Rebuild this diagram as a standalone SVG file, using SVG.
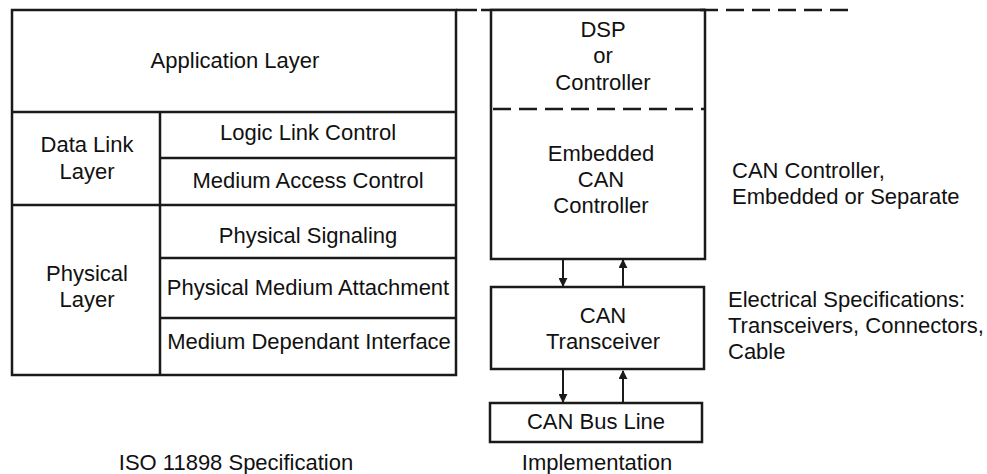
<svg xmlns="http://www.w3.org/2000/svg" width="987" height="474" viewBox="0 0 987 474">
<style>
.ln{stroke:#1a1a1a;stroke-width:2.5;fill:none}
.box{stroke:#1a1a1a;stroke-width:2.5;fill:#fff}
.dash{stroke:#1a1a1a;stroke-width:2.5;fill:none;stroke-dasharray:18 8}
text{font-family:"Liberation Sans",Arial,sans-serif;font-size:22px;fill:#111}
.c{text-anchor:middle}
.arr{stroke:#1a1a1a;stroke-width:2;fill:none}
</style>
<defs>
<marker id="ah" viewBox="0 0 10 10" refX="9" refY="5" markerWidth="9" markerHeight="9" markerUnits="userSpaceOnUse" orient="auto">
<path d="M0,0 L10,5 L0,10 Z" fill="#1a1a1a"/>
</marker>
</defs>
<rect width="987" height="474" fill="#fff"/>
<g id="iso-stack">
<rect class="box" x="12" y="10" width="444" height="365"/>
<line class="ln" x1="456" y1="10" x2="477" y2="10"/>
<line class="ln" x1="12" y1="112" x2="456" y2="112"/>
<line class="ln" x1="160" y1="112" x2="160" y2="375"/>
<line class="ln" x1="160" y1="158" x2="456" y2="158"/>
<line class="ln" x1="12" y1="205" x2="456" y2="205"/>
<line class="ln" x1="160" y1="258" x2="456" y2="258"/>
<line class="ln" x1="160" y1="318" x2="456" y2="318"/>
</g>
<g id="application-layer"><text class="c" x="235" y="68">Application Layer</text></g>
<g id="data-link-layer"><text class="c" x="87" y="152">Data Link</text><text class="c" x="87" y="179">Layer</text></g>
<g id="llc"><text class="c" x="308" y="140">Logic Link Control</text></g>
<g id="mac"><text class="c" x="308" y="188">Medium Access Control</text></g>
<g id="physical-layer"><text class="c" x="87" y="281">Physical</text><text class="c" x="87" y="307">Layer</text></g>
<g id="pls"><text class="c" x="308" y="243">Physical Signaling</text></g>
<g id="pma"><text class="c" x="308" y="295">Physical Medium Attachment</text></g>
<g id="mdi"><text class="c" x="309" y="349">Medium Dependant Interface</text></g>
<g id="iso-caption"><text class="c" x="236" y="470">ISO 11898 Specification</text></g>
<g id="controller-box">
<line class="ln" x1="481" y1="10" x2="705" y2="10"/>
<rect class="box" x="491" y="10" width="214" height="249"/>
<line class="dash" x1="493" y1="109" x2="705" y2="109"/>
<line class="dash" x1="700" y1="10" x2="848" y2="10"/>
<text class="c" x="603" y="37">DSP</text>
<text class="c" x="603" y="63">or</text>
<text class="c" x="603" y="90">Controller</text>
<text class="c" x="601" y="161">Embedded</text>
<text class="c" x="601" y="187">CAN</text>
<text class="c" x="601" y="213">Controller</text>
</g>
<g id="transceiver">
<rect class="box" x="491" y="287" width="213" height="82"/>
<text class="c" x="603" y="323">CAN</text>
<text class="c" x="603" y="349">Transceiver</text>
</g>
<g id="bus-line">
<rect class="box" x="490" y="403" width="212" height="39"/>
<text class="c" x="596" y="429">CAN Bus Line</text>
</g>
<g id="implementation-caption"><text class="c" x="597" y="470">Implementation</text></g>
<g id="note-controller"><text x="732" y="178">CAN Controller,</text><text x="732" y="204">Embedded or Separate</text></g>
<g id="note-electrical"><text x="728" y="307">Electrical Specifications:</text><text x="728" y="333">Transceivers, Connectors,</text><text x="728" y="359">Cable</text></g>
<g id="connectors">
<line class="arr" x1="563" y1="260" x2="563" y2="286" marker-end="url(#ah)"/>
<line class="arr" x1="623" y1="286" x2="623" y2="260" marker-end="url(#ah)"/>
<line class="arr" x1="563" y1="370" x2="563" y2="402" marker-end="url(#ah)"/>
<line class="arr" x1="623" y1="402" x2="623" y2="371" marker-end="url(#ah)"/>
</g>
</svg>
